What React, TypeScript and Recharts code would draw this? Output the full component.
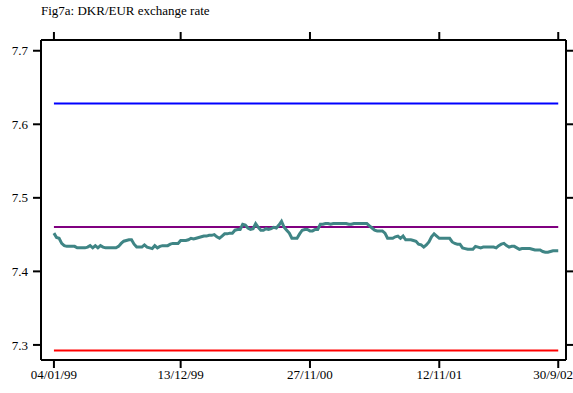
import React from "react";
import {
  LineChart, Line, XAxis, YAxis, ReferenceLine,
} from "recharts";

// Weekly DKK/EUR rate, 04/01/99 .. 30/9/02 (196 weeks)
const rate = [
  7.452, 7.446, 7.445, 7.438, 7.435, 7.434, 7.434, 7.434, 7.434, 7.432,
  7.432, 7.432, 7.432, 7.433, 7.435, 7.432, 7.435, 7.432, 7.435, 7.433,
  7.432, 7.432, 7.432, 7.432, 7.432, 7.434, 7.438, 7.441, 7.442, 7.443,
  7.443, 7.437, 7.433, 7.433, 7.433, 7.436, 7.433, 7.432, 7.431, 7.435,
  7.432, 7.434, 7.435, 7.435, 7.435, 7.437, 7.438, 7.438, 7.438, 7.442,
  7.442, 7.442, 7.443, 7.445, 7.444, 7.445, 7.446, 7.447, 7.448, 7.448,
  7.449, 7.449, 7.450, 7.447, 7.445, 7.448, 7.451, 7.451, 7.452, 7.452,
  7.456, 7.457, 7.457, 7.464, 7.463, 7.459, 7.457, 7.458, 7.465, 7.460,
  7.456, 7.456, 7.458, 7.457, 7.458, 7.460, 7.459, 7.463, 7.468, 7.460,
  7.456, 7.452, 7.445, 7.445, 7.445, 7.451, 7.456, 7.457, 7.457, 7.455,
  7.455, 7.457, 7.457, 7.464, 7.464, 7.465, 7.465, 7.464, 7.465, 7.465,
  7.465, 7.465, 7.465, 7.465, 7.464, 7.464, 7.465, 7.465, 7.465, 7.465,
  7.465, 7.465, 7.462, 7.459, 7.456, 7.455, 7.455, 7.455, 7.452, 7.445,
  7.445, 7.445, 7.447, 7.448, 7.445, 7.448, 7.443, 7.443, 7.443, 7.442,
  7.441, 7.437, 7.436, 7.433, 7.436, 7.440, 7.447, 7.451, 7.448, 7.445,
  7.445, 7.445, 7.445, 7.445, 7.440, 7.438, 7.437, 7.437, 7.432, 7.431,
  7.430, 7.430, 7.430, 7.434, 7.433, 7.432, 7.433, 7.433, 7.433, 7.433,
  7.433, 7.432, 7.435, 7.437, 7.438, 7.435, 7.433, 7.434, 7.434, 7.432,
  7.430, 7.431, 7.431, 7.431, 7.431, 7.430, 7.429, 7.429, 7.429, 7.427,
  7.426, 7.426, 7.427, 7.428, 7.428, 7.428,
];

// ERM II band: central parity and +/- 2.25%
const upperBand = 7.6282;
const centralParity = 7.4604;
const lowerBand = 7.2925;

const dateTicks = [0, 49, 99, 149, 195];
const dateLabels = ["04/01/99", "13/12/99", "27/11/00", "12/11/01", "30/9/02"];
const yTicks = [7.3, 7.4, 7.5, 7.6, 7.7];

const data = rate.map((v, i) => ({ i, rate: v }));

const FONT = "'Liberation Serif', 'Times New Roman', serif";
const axisStroke = { stroke: "#000", strokeWidth: 2 };
const tickStyle = { fill: "#000", fontSize: 13, fontFamily: FONT };

function dateLabel(v: number) {
  const k = dateTicks.indexOf(v);
  return k >= 0 ? dateLabels[k] : "";
}

const last = rate.length - 1;

export default function App() {
  return (
    <div style={{ position: "absolute", left: 0, top: 0, width: 573, height: 393, background: "#fff" }}>
      <div style={{
        position: "absolute", left: 41, top: 3, fontFamily: FONT, fontSize: 13, color: "#000",
        whiteSpace: "nowrap",
      }}>
        Fig7a: DKR/EUR exchange rate
      </div>
      <LineChart width={573} height={393} data={data} margin={{ top: 0, right: 0, bottom: 0, left: 0 }}>
        <XAxis
          dataKey="i"
          type="number"
          domain={[-5, 198]}
          ticks={dateTicks}
          tickFormatter={dateLabel}
          height={33}
          tickSize={8}
          tickMargin={2}
          axisLine={axisStroke}
          tickLine={axisStroke}
          tick={tickStyle}
          allowDataOverflow
        />
        <XAxis
          xAxisId="top"
          orientation="top"
          dataKey="i"
          type="number"
          domain={[-5, 198]}
          ticks={dateTicks}
          tickFormatter={() => ""}
          height={40}
          tickSize={8}
          axisLine={axisStroke}
          tickLine={axisStroke}
          allowDataOverflow
        />
        <YAxis
          type="number"
          domain={[7.2795, 7.7146]}
          ticks={yTicks}
          tickFormatter={(v: number) => v.toFixed(1)}
          width={41}
          tickSize={8}
          tickMargin={5}
          axisLine={axisStroke}
          tickLine={axisStroke}
          tick={tickStyle}
          allowDataOverflow
        />
        <YAxis
          yAxisId="right"
          orientation="right"
          type="number"
          domain={[7.2795, 7.7146]}
          ticks={yTicks}
          tickFormatter={() => ""}
          width={7}
          tickSize={8}
          axisLine={axisStroke}
          tickLine={axisStroke}
          allowDataOverflow
        />
        <ReferenceLine
          segment={[{ x: 0, y: upperBand }, { x: last, y: upperBand }]}
          stroke="#0000ff"
          strokeWidth={2}
        />
        <ReferenceLine
          segment={[{ x: 0, y: centralParity }, { x: last, y: centralParity }]}
          stroke="#800080"
          strokeWidth={2}
        />
        <ReferenceLine
          segment={[{ x: 0, y: lowerBand }, { x: last, y: lowerBand }]}
          stroke="#ff0000"
          strokeWidth={2}
        />
        <Line
          dataKey="rate"
          stroke="#3f8585"
          strokeWidth={3}
          dot={false}
          isAnimationActive={false}
        />
      </LineChart>
    </div>
  );
}
